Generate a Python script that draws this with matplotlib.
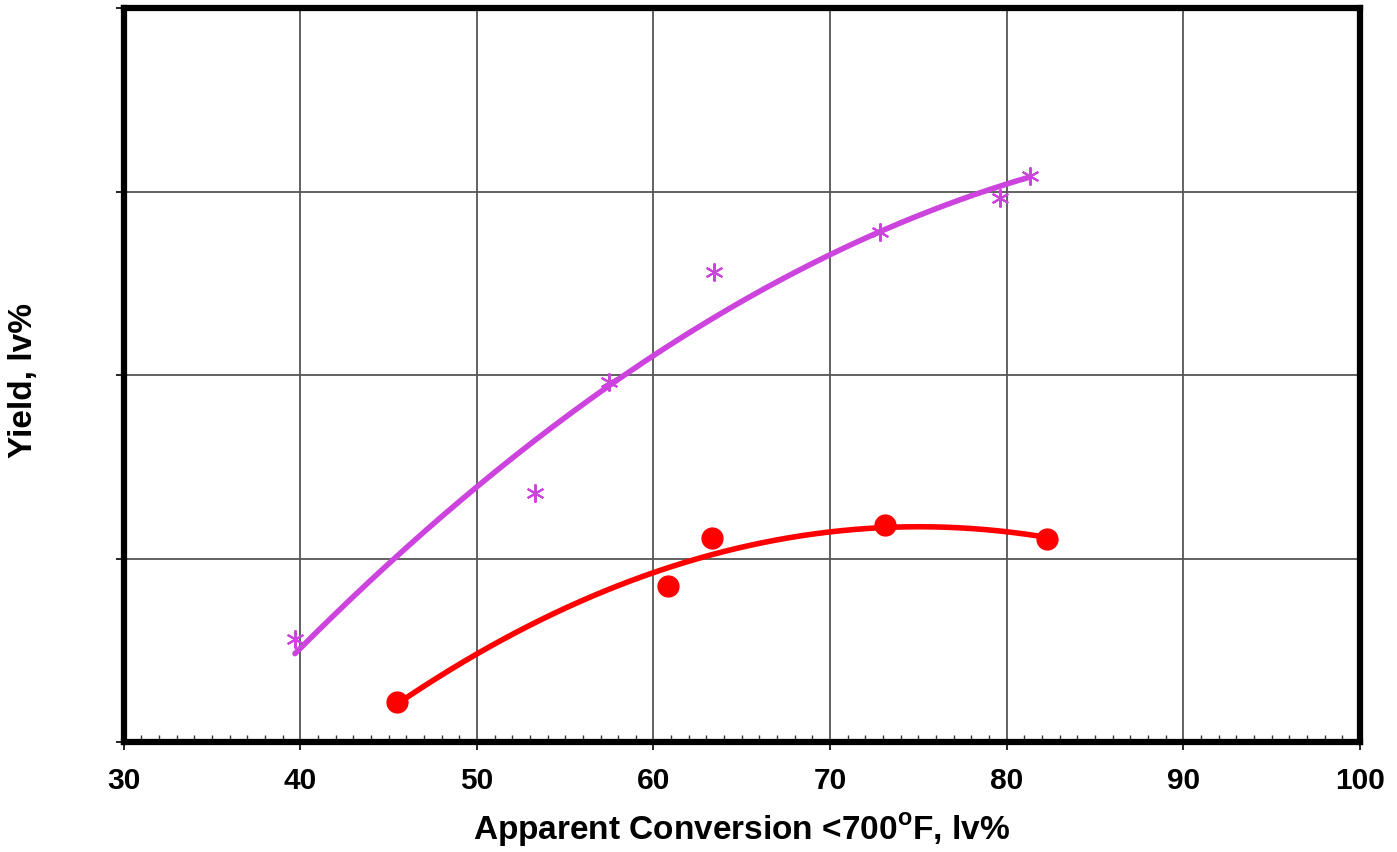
import matplotlib
matplotlib.use('Agg')
import matplotlib.pyplot as plt
import numpy as np
from matplotlib.ticker import MultipleLocator, NullFormatter

plt.rcParams['font.family'] = ['Liberation Sans', 'DejaVu Sans']
plt.rcParams['mathtext.fontset'] = 'custom'
plt.rcParams['mathtext.bf'] = 'Liberation Sans:bold'
plt.rcParams['mathtext.rm'] = 'Liberation Sans:bold'

# magenta series (asterisks)
conv_a = [39.7, 53.3, 57.5, 63.4, 72.8, 79.6, 81.3]
yield_a = [0.56, 1.355, 1.965, 2.563, 2.78, 2.966, 3.086]

# red series (circles)
conv_b = [45.5, 60.8, 63.3, 73.1, 82.3]
yield_b = [0.218, 0.849, 1.110, 1.181, 1.105]

x_ticks = [30, 40, 50, 60, 70, 80, 90, 100]

magenta = '#CC44DD'
red = '#FF0000'

fig = plt.figure(figsize=(13.97, 8.53), dpi=100)
ax = fig.add_axes([0.0885, 0.129, 0.885, 0.860])

# second order trend lines, like the spreadsheet did
for xs, ys, col in [(conv_a, yield_a, magenta), (conv_b, yield_b, red)]:
    coef = np.polyfit(xs, ys, 2)
    xx = np.linspace(min(xs), max(xs), 200)
    ax.plot(xx, np.polyval(coef, xx), color=col, lw=4, solid_capstyle='round', zorder=3)

ax.plot(conv_a, yield_a, ls='none', marker=(6, 2, 0), ms=13, mew=1.5,
        color=magenta, zorder=4)
ax.plot(conv_b, yield_b, ls='none', marker='o', ms=15, color=red, zorder=4)

ax.set_xlim(30, 100)
ax.set_ylim(0, 4)
ax.set_xticks(x_ticks)
ax.xaxis.set_minor_locator(MultipleLocator(1))
ax.yaxis.set_major_locator(MultipleLocator(1))
ax.yaxis.set_major_formatter(NullFormatter())
ax.grid(True, which='major', color='#555555', lw=1.3)
ax.set_axisbelow(True)

for sp in ax.spines.values():
    sp.set_linewidth(4.5)
    sp.set_color('black')

ax.tick_params(axis='x', which='major', direction='out', length=6, width=1.2,
               labelsize=21.5, pad=11)
ax.tick_params(axis='x', which='minor', direction='in', length=5, width=1,
               color='#333333')
ax.tick_params(axis='y', which='major', direction='out', length=6, width=1.2)
for lab in ax.get_xticklabels():
    lab.set_fontweight('bold')

ax.set_xlabel(r'Apparent Conversion <700$^\mathbf{o}$F, lv%', fontsize=24,
              fontweight='bold', labelpad=12)
fig.text(0.0165, 0.5545, 'Yield, lv%', fontsize=24, fontweight='bold',
         rotation=90, ha='center', va='center')

fig.savefig('out.png', dpi=100)
